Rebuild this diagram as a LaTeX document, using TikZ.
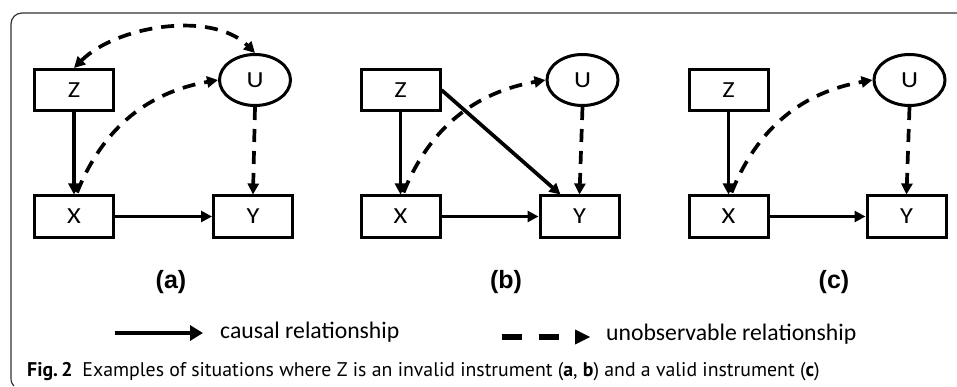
\documentclass[tikz,border=0pt]{standalone}
\usepackage{fontspec}
\setmainfont{Carlito}
\newfontfamily\panelfont{Liberation Sans}
\newfontfamily\capfont{PT Sans}
\usetikzlibrary{arrows.meta,shapes.geometric}
\newcommand{\wideletter}[1]{\scalebox{1.15}[1]{#1}}

\begin{document}
\begin{tikzpicture}[x=1pt,y=1pt,
  var/.style={draw, line width=3pt, minimum width=79pt, minimum height=41pt,
    inner sep=0pt, font=\fontsize{23}{24}\selectfont},
  latent/.style={draw, ellipse, line width=3pt, minimum width=71pt, minimum height=51pt,
    inner sep=0pt, font=\fontsize{23}{24}\selectfont},
  cause/.style={line width=3.7pt, -{Triangle[length=11pt,width=11pt]}},
  hidden/.style={line width=3.7pt, dash pattern=on 13pt off 9pt,
    {Triangle[length=11pt,width=11pt]}-{Triangle[length=11pt,width=11pt]}},
  hiddenone/.style={line width=3.7pt, dash pattern=on 13pt off 9pt,
    -{Triangle[length=11pt,width=11pt]}},
  panellabel/.style={font=\panelfont\bfseries\fontsize{25}{26}\selectfont, inner sep=0pt},
  legendtext/.style={font=\fontsize{23.7}{25}\selectfont, inner sep=0pt, anchor=west},
  frame/.style={draw=black!80, line width=1.2pt},
]
\useasboundingbox (0,0) rectangle (957,-387);

% outer frame, open on the right and at the bottom
\draw[frame] (957,-13) -- (22,-13) arc[start angle=90, end angle=180, radius=11]
  -- (11,-378) .. controls (11,-382) and (12,-384) .. (14,-386);

% ---------- panel (a) ----------
\node[var]    (Za) at (74,-90)     {\wideletter{Z}};
\node[latent] (Ua) at (255,-80)    {\wideletter{U}};
\node[var]    (Xa) at (74,-216.5)  {\wideletter{X}};
\node[var]    (Ya) at (253,-216.5) {\wideletter{Y}};
\draw[hiddenone] ([xshift=3pt,yshift=2pt]Xa.north) to[out=68, in=190] (Ua.west);
\draw[cause] (Za) -- (Xa);
\draw[cause] (Xa) -- (Ya);
\draw[hiddenone] (Ua.south) -- (Ya.north);
\draw[hidden] (Za.north) to[out=45, in=135, looseness=0.85] (Ua.north);
\node[panellabel] (la) at (171,-282) {(a)};

% ---------- panel (b) ----------
\node[var]    (Zb) at (400.5,-90)    {\wideletter{Z}};
\node[latent] (Ub) at (582.5,-80)    {\wideletter{U}};
\node[var]    (Xb) at (400.5,-216.5) {\wideletter{X}};
\node[var]    (Yb) at (579.5,-216.5) {\wideletter{Y}};
\draw[hiddenone] ([xshift=3pt,yshift=2pt]Xb.north) to[out=68, in=190] (Ub.west);
\draw[cause] (Zb) -- (Xb);
\draw[cause] (Xb) -- (Yb);
\draw[cause] (Zb.east) -- ([xshift=-19pt]Yb.north);
\draw[hiddenone] (Ub.south) -- (Yb.north);
\node[panellabel] (lb) at (506,-282) {(b)};

% ---------- panel (c) ----------
\node[var]    (Zc) at (728.5,-90)    {\wideletter{Z}};
\node[latent] (Uc) at (909.5,-80)    {\wideletter{U}};
\node[var]    (Xc) at (728.5,-216.5) {\wideletter{X}};
\node[var]    (Yc) at (906.5,-216.5) {\wideletter{Y}};
\draw[hiddenone] ([xshift=3pt,yshift=2pt]Xc.north) to[out=68, in=190] (Uc.west);
\draw[cause] (Zc) -- (Xc);
\draw[cause] (Xc) -- (Yc);
\draw[hiddenone] (Uc.south) -- (Yc.north);
\node[panellabel] (lc) at (834,-282) {(c)};

% ---------- legend ----------
\coordinate (cs) at (115,-333);
\coordinate (ce) at (203,-333);
\draw[line width=4.3pt, -{Triangle[length=13pt,width=15pt]}] (cs) -- (ce);
\node[legendtext] (ct) at (220,-332) {causal relationship};

\coordinate (us) at (502,-337);
\coordinate (ue) at (560,-337);
\draw[line width=5.5pt, dash pattern=on 20pt off 17pt] (us) -- (ue);
\fill (575,-329.5) -- (590,-337) -- (575,-344.5) -- cycle;
\node[legendtext] (ut) at (606,-334) {unobservable relationship};

% ---------- caption ----------
\node[anchor=base west, inner sep=0pt, font=\capfont\fontsize{19.8}{22}\selectfont] (cap) at (27,-376)
  {\textbf{Fig.\,2}\enspace Examples of situations where Z is an invalid instrument (\textbf{a}, \textbf{b}) and a valid instrument (\textbf{c})};
\end{tikzpicture}
\end{document}
